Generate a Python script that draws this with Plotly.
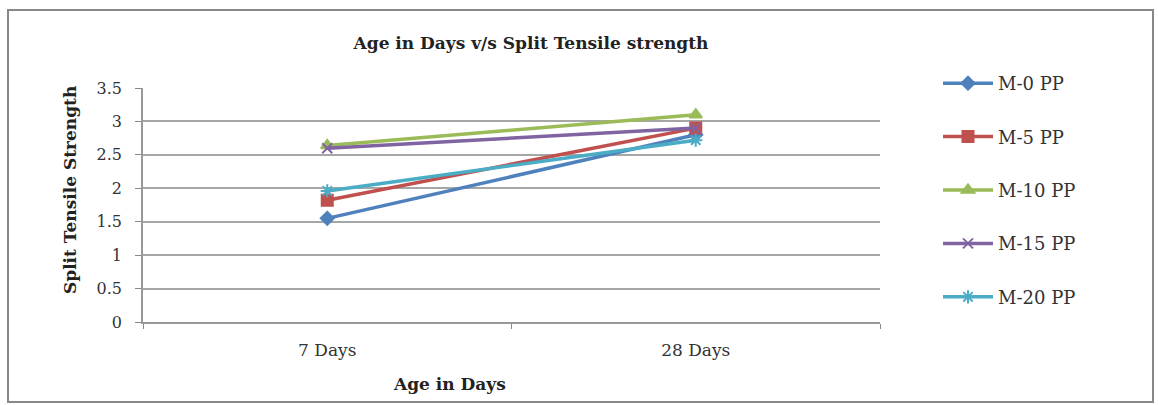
import plotly.graph_objects as go

categories = ["7 Days", "28 Days"]
series_names = ["M-0 PP", "M-5 PP", "M-10 PP", "M-15 PP", "M-20 PP"]
m0 = [1.55, 2.8]
m5 = [1.82, 2.9]
m10 = [2.64, 3.1]
m15 = [2.6, 2.9]
m20 = [1.96, 2.72]
y_ticks = [0, 0.5, 1, 1.5, 2, 2.5, 3, 3.5]
y_tick_labels = ["0", "0.5", "1", "1.5", "2", "2.5", "3", "3.5"]

values = [m0, m5, m10, m15, m20]
colors = ["#4F81BD", "#C0504D", "#9BBB59", "#8064A2", "#4BACC6"]
symbols = ["diamond", "square", "triangle-up", "x-thin", "asterisk"]
sizes = [10, 11, 11, 10, 11]

FONT = "DejaVu Serif"

fig = go.Figure()
for name, vals, c, s, sz in zip(series_names, values, colors, symbols, sizes):
    fig.add_trace(go.Scatter(
        x=categories, y=vals, name=name, mode="lines+markers",
        legendgroup=name,
        line=dict(color=c, width=3.5),
        marker=dict(symbol=s, size=sz, color=c, line=dict(color=c, width=2)),
    ))

W, H = 1159, 405
L, R, T, B = 143, 880, 88, 322
pw, ph = R - L, B - T

def px(x):
    return (x - L) / pw

def py(y):
    return (B - y) / ph

fig.update_layout(
    width=W, height=H,
    margin=dict(l=L, r=W - R, t=T, b=H - B),
    paper_bgcolor="white", plot_bgcolor="white",
    font=dict(family=FONT, size=17, color="#333333"),
    title=dict(text="<b>Age in Days v/s Split Tensile strength</b>",
               xref="container", yref="container",
               x=531 / W, xanchor="center", y=1 - 43 / H, yanchor="middle",
               font=dict(size=17, color="#222222")),
    showlegend=True,
    legend=dict(x=px(938), y=py(65), xanchor="left", yanchor="top",
                tracegroupgap=27, font=dict(size=18, color="#333333"),
                itemwidth=50, maxheight=400, bgcolor="rgba(0,0,0,0)"),
    xaxis=dict(
        type="category", range=[-0.5, 1.5], tickson="boundaries",
        ticks="outside", ticklen=5, tickcolor="#888888",
        showline=True, linecolor="#999999", linewidth=2,
        showgrid=False, tickfont=dict(size=17, color="#333333"),
        ticklabelstandoff=12,
    ),
    yaxis=dict(
        range=[0, 3.5], tickvals=y_ticks, ticktext=y_tick_labels,
        ticks="outside", ticklen=6, tickcolor="#888888",
        showline=True, linecolor="#999999", linewidth=1.5,
        showgrid=True, gridcolor="#A6A6A6", gridwidth=1.5,
        zeroline=False, tickfont=dict(size=16, color="#333333"),
        ticklabelstandoff=10,
    ),
    annotations=[
        dict(text="<b>Age in Days</b>", xref="paper", yref="paper",
             x=px(449), y=py(384), xanchor="center", yanchor="middle",
             showarrow=False, font=dict(size=17, color="#222222")),
        dict(text="<b>Split Tensile Strength</b>", xref="paper", yref="paper",
             x=px(70), y=py(190), xanchor="center", yanchor="middle", textangle=-90,
             showarrow=False, font=dict(size=17, color="#222222")),
    ],
    shapes=[dict(type="rect", xref="paper", yref="paper",
                 x0=px(8), x1=px(1153), y0=py(402), y1=py(10),
                 line=dict(color="#888888", width=2), fillcolor="rgba(0,0,0,0)", layer="below")],
)

fig.write_html("out.html")
